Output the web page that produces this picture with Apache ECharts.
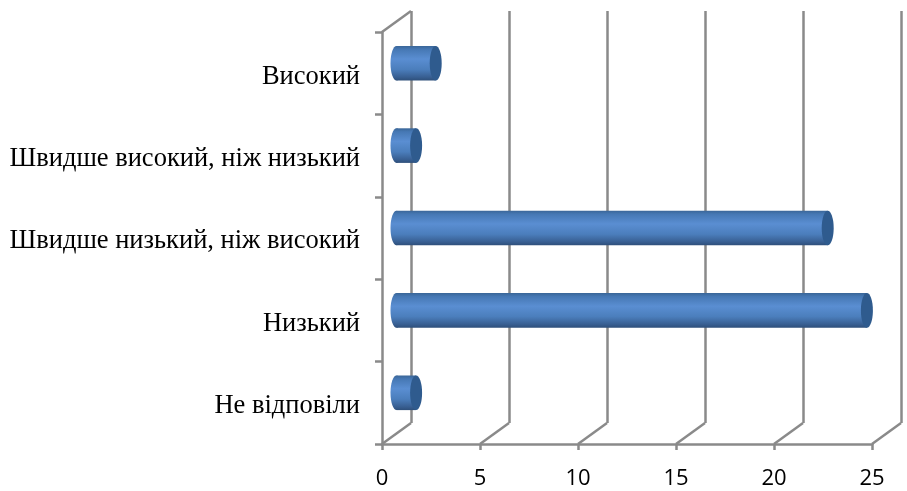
<!DOCTYPE html>
<html><head><meta charset="utf-8">
<style>html,body{margin:0;padding:0;background:#fff}#c{width:907px;height:491px}</style>
<script src="https://cdn.jsdelivr.net/npm/echarts@6/dist/echarts.min.js"></script>
</head><body><div id="c"></div>
<script>
const categories = ['Не відповіли','Низький','Швидше низький, ніж високий','Швидше високий, ніж низький','Високий'];
const values = [1,24,22,1,2];
const ticks = [0,5,10,15,20,25];
const depthX = 29, depthY = 21;
const axisColor = '#8a8a8a';
const axisWidth = 2.5;

const chart = echarts.init(document.getElementById('c'), null, {renderer:'canvas'});

function barGrad(){
  return new echarts.graphic.LinearGradient(0,0,0,1,[
    {offset:0,color:'#3a6698'},{offset:0.1,color:'#4678b4'},{offset:0.38,color:'#5a8ed2'},
    {offset:0.68,color:'#4b7ebc'},{offset:0.9,color:'#385f92'},{offset:1,color:'#2e4f7a'}]);
}
function cylinder(params, api){
  const v = api.value(0), i = api.value(1);
  const p0 = api.coord([0,i]), p1 = api.coord([v,i]);
  const band = api.size([0,1])[1];
  const h = band*0.42, ry = h/2, rx = 6;
  const x0 = p0[0]+depthX/2, x1 = p1[0]+depthX/2, y = p0[1]-depthY/2+0.5;
  return {type:'group',children:[
    {type:'ellipse',shape:{cx:x0,cy:y,rx:rx,ry:ry},style:{fill:barGrad()}},
    {type:'rect',shape:{x:x0,y:y-ry,width:x1-x0,height:h},style:{fill:barGrad()}},
    {type:'ellipse',shape:{cx:x1,cy:y,rx:rx,ry:ry},style:{fill:'#2f5b8e'}}
  ]};
}
function floorLine(params, api){
  const p = api.coord([api.value(0),0]);
  const y = p[1]+api.size([0,1])[1]/2;
  return {type:'line',shape:{x1:p[0],y1:y,x2:p[0]+depthX,y2:y-depthY},style:{stroke:axisColor,lineWidth:axisWidth}};
}
function topLine(params, api){
  const p = api.coord([api.value(0),categories.length-1]);
  const y = p[1]-api.size([0,1])[1]/2;
  return {type:'line',shape:{x1:p[0],y1:y,x2:p[0]+depthX,y2:y-depthY},style:{stroke:axisColor,lineWidth:axisWidth}};
}

chart.setOption({
  animation:false,
  backgroundColor:'#fff',
  grid:[
    {left:382,right:35,top:32,bottom:47},
    {left:382+depthX,right:35-depthX,top:32-depthY,bottom:47+depthY}
  ],
  xAxis:[
    {type:'value',gridIndex:0,min:0,max:25,interval:5,
      axisLine:{show:true,lineStyle:{color:axisColor,width:axisWidth}},
      axisTick:{show:true,length:6,lineStyle:{color:axisColor,width:axisWidth}},
      splitLine:{show:false},
      axisLabel:{show:true,margin:24,color:'#000',fontSize:22,fontFamily:'"Open Sans","Noto Sans",sans-serif'}},
    {type:'value',gridIndex:1,min:0,max:25,interval:5,
      axisLine:{show:false},axisTick:{show:false},axisLabel:{show:false},
      splitLine:{show:true,lineStyle:{color:axisColor,width:axisWidth}}}
  ],
  yAxis:[
    {type:'category',gridIndex:0,data:categories,
      axisLine:{show:true,onZero:false,lineStyle:{color:axisColor,width:axisWidth}},
      axisTick:{show:true,length:7,lineStyle:{color:axisColor,width:axisWidth}},
      axisLabel:{show:true,margin:22,color:'#000',fontSize:26.5,verticalAlign:'top',lineHeight:7,fontFamily:'"Liberation Serif",serif',interval:0}},
    {type:'category',gridIndex:1,data:categories,
      axisLine:{show:false},axisTick:{show:false},axisLabel:{show:false}}
  ],
  series:[
    {type:'custom',xAxisIndex:0,yAxisIndex:0,renderItem:floorLine,data:ticks.map(t=>[t]),encode:{x:0},silent:true,z:1,clip:false},
    {type:'custom',xAxisIndex:0,yAxisIndex:0,renderItem:topLine,data:[[ticks[0]]],encode:{x:0},silent:true,z:1,clip:false},
    {type:'custom',xAxisIndex:0,yAxisIndex:0,renderItem:cylinder,data:values.map((v,i)=>[v,i]),encode:{x:0,y:1},z:5,clip:false}
  ]
});
</script></body></html>
